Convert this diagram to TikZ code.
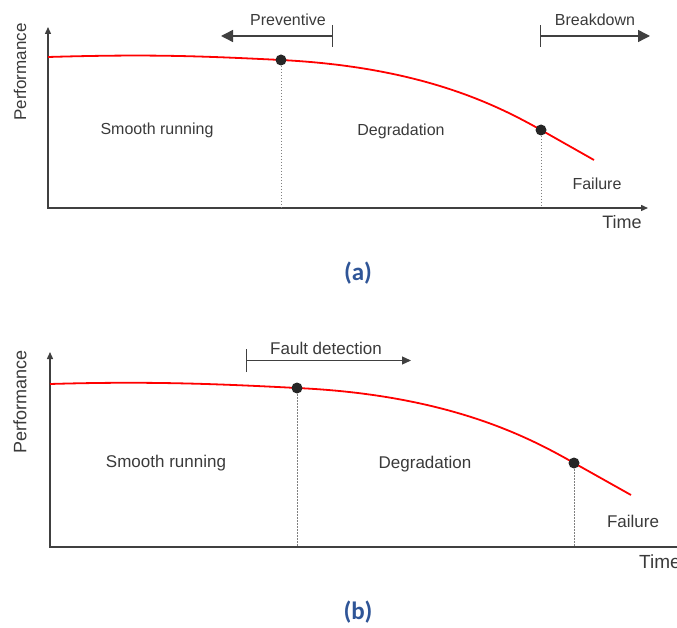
\documentclass[tikz,border=0pt]{standalone}
\usepackage{fontspec}
\setmainfont{Liberation Sans}
\newfontfamily\capfont{Carlito}
\usetikzlibrary{arrows.meta}
\definecolor{axisgray}{HTML}{404040}
\definecolor{txtgray}{HTML}{3A3A3A}
\definecolor{capblue}{HTML}{2F5597}
\definecolor{dotgray}{HTML}{262626}
\tikzset{
  axis/.style={draw=axisgray, line width=1.4pt, {Triangle[length=7pt,width=6pt]}-{Triangle[length=7pt,width=6pt]}},
  curve/.style={draw=red, line width=1.8pt},
  guide/.style={draw=gray, line width=0.6pt, dash pattern=on 1.5pt off 1.5pt},
  dot/.style={circle, fill=dotgray, inner sep=0pt, minimum size=11pt},
  label/.style={text=txtgray, font=\fontsize{16}{19}\selectfont},
  labelb/.style={text=txtgray, font=\fontsize{17}{20}\selectfont},
  span/.style={draw=axisgray, line width=1.4pt},
  caption/.style={text=capblue, font=\capfont\bfseries\fontsize{25}{30}\selectfont}
}
\begin{document}
\begin{tikzpicture}[x=1pt,y=-1pt]
  \useasboundingbox (0,0) rectangle (677,628);

  % (a)
  \coordinate (oA) at (48,208);
  \coordinate (yA) at (48,27);
  \coordinate (xA) at (648,208);
  \draw[axis] (yA) -- (oA) -- (xA); %Axis

  \coordinate (sa) at (48,57);
  \coordinate (pa1) at (281,60);
  \coordinate (pa2) at (541,130);
  \coordinate (ea) at (594,160);
  \draw[guide] (pa1) -- (pa1 |- oA);
  \draw[guide] (pa2) -- (pa2 |- oA);
  \draw[curve] (sa) .. controls (150,54) and (200,56) .. (pa1)
    .. controls (420,67) and (495,104) .. (pa2) -- (ea);
  \node[dot] (da1) at (pa1) {};
  \node[dot] (da2) at (pa2) {};

  \coordinate (prevR) at (333,36);
  \coordinate (prevL) at (221,36);
  \draw[span, {Bar[width=22pt]}-{Triangle[length=12pt,width=12pt]}] (prevR) -- (prevL);
  \node[label] (prevtxt) at (288,20) {Preventive};

  \coordinate (brkL) at (540,36);
  \coordinate (brkR) at (650,36);
  \draw[span, {Bar[width=22pt]}-{Triangle[length=12pt,width=12pt]}] (brkL) -- (brkR);
  \node[label] (brktxt) at (595,20) {Breakdown};

  \node[label, rotate=90, font=\fontsize{17}{20}\selectfont] (perfA) at (20,72) {Performance};
  \node[label] (smoothA) at (157,130) {Smooth running};
  \node[label] (degA) at (401,131) {Degradation};
  \node[label] (failA) at (597,184) {Failure};
  \node[label, font=\fontsize{18}{21}\selectfont] (timeA) at (622,222) {Time};
  \node[caption] (capA) at (358,273) {(a)};

  % (b)
  \coordinate (oB) at (50,547);
  \coordinate (yB) at (50,352);
  \coordinate (xB) at (700,547);
  \draw[axis, {Triangle[length=7pt,width=6pt]}-] (yB) -- (oB) -- (xB); %Axis

  \coordinate (sb) at (50,384);
  \coordinate (pb1) at (297,388);
  \coordinate (pb2) at (574,463);
  \coordinate (eb) at (631,495);
  \draw[guide] (pb1) -- (pb1 |- oB);
  \draw[guide] (pb2) -- (pb2 |- oB);
  \draw[curve] (sb) .. controls (150,381) and (220,384) .. (pb1)
    .. controls (450,395) and (530,438) .. (pb2) -- (eb);
  \node[dot] (db1) at (pb1) {};
  \node[dot] (db2) at (pb2) {};

  \coordinate (fdL) at (246,360.5);
  \coordinate (fdR) at (411,360.5);
  \draw[span, line width=1.2pt, {Bar[width=23pt]}-{Triangle[length=9pt,width=8pt]}] (fdL) -- (fdR);
  \node[labelb] (fdtxt) at (326,348) {Fault detection};

  \node[labelb, rotate=90, font=\fontsize{18}{21}\selectfont] (perfB) at (20,402) {Performance};
  \node[labelb] (smoothB) at (166,463) {Smooth running};
  \node[labelb] (degB) at (425,464) {Degradation};
  \node[labelb] (failB) at (633,521) {Failure};
  \node[labelb, anchor=west, inner sep=0pt, font=\fontsize{19}{22}\selectfont] (timeB) at (639,562) {Time};
  \node[caption] (capB) at (358,612) {(b)};
\end{tikzpicture}
\end{document}
